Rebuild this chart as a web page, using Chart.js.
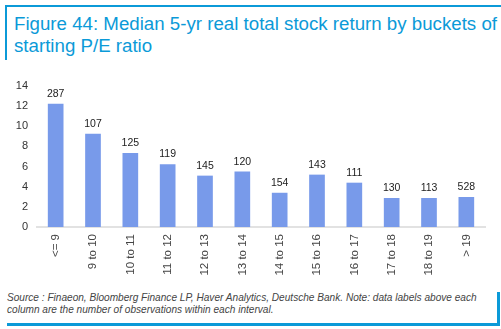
<!DOCTYPE html>
<html><head><meta charset="utf-8">
<script src="https://cdn.jsdelivr.net/npm/chart.js@4"></script>
<style>
html,body{margin:0;padding:0;background:#fff;width:501px;height:329px;overflow:hidden;font-family:"Liberation Sans",Arial,sans-serif;}
#topline{position:absolute;left:5px;top:5px;width:496px;height:2px;background:#0b9ad8;}
#leftline{position:absolute;left:5px;top:5px;width:2px;height:55px;background:#0b9ad8;}
#title{position:absolute;left:14px;top:13px;font-size:18.7px;line-height:22px;color:#0b9ad8;white-space:nowrap;}
#rightline{position:absolute;left:497px;top:292px;width:3px;height:34px;background:#0b9ad8;}
#bottomline{position:absolute;left:7px;top:323px;width:493px;height:3px;background:#0b9ad8;}
#note{position:absolute;left:7px;top:292px;font-size:10.1px;line-height:12px;font-style:italic;color:#444;white-space:nowrap;}
#wrap{position:absolute;left:0;top:60px;width:501px;height:230px;}
</style></head><body>
<div id="topline"></div><div id="leftline"></div>
<div id="title">Figure 44: Median 5-yr real total stock return by buckets of<br>starting P/E ratio</div>
<div id="wrap"><canvas id="c"></canvas></div>
<div id="note">Source : Finaeon, Bloomberg Finance LP, Haver Analytics, Deutsche Bank. Note: data labels above each<br>column are the number of observations within each interval.</div>
<div id="rightline"></div><div id="bottomline"></div>
<script>
const categories = ["<= 9","9 to 10","10 to 11","11 to 12","12 to 13","13 to 14","14 to 15","15 to 16","16 to 17","17 to 18","18 to 19","> 19"];
const medianReturn = [12.25, 9.25, 7.35, 6.22, 5.1, 5.5, 3.4, 5.2, 4.4, 2.88, 2.88, 2.98];
const observations = [287, 107, 125, 119, 145, 120, 154, 143, 111, 130, 113, 528];

const labelPlugin = {
  id: 'obsLabels',
  afterDatasetsDraw(chart) {
    const ctx = chart.ctx;
    const meta = chart.getDatasetMeta(0);
    ctx.save();
    ctx.font = '10.5px "Liberation Sans", Arial, sans-serif';
    ctx.fillStyle = '#222';
    ctx.textAlign = 'center';
    ctx.textBaseline = 'alphabetic';
    meta.data.forEach((bar, i) => {
      ctx.fillText(String(observations[i]), bar.x, bar.y - 7);
    });
    ctx.restore();
  }
};

new Chart(document.getElementById('c'), {
  type: 'bar',
  data: {
    labels: categories,
    datasets: [{
      data: medianReturn,
      backgroundColor: '#789aea',
      borderWidth: 0,
      categoryPercentage: 1,
      barPercentage: 0.42
    }]
  },
  options: {
    responsive: true,
    maintainAspectRatio: false,
    animation: false,
    layout: { padding: { top: 26, right: 16, left: 0, bottom: 0 } },
    plugins: { legend: { display: false }, tooltip: { enabled: false } },
    scales: {
      x: {
        grid: { display: false, drawTicks: false },
        border: { display: true, color: '#e2e2e2', width: 2 },
        ticks: {
          color: '#444',
          font: { size: 11.5, family: '"Liberation Sans", Arial, sans-serif' },
          minRotation: 90, maxRotation: 90, padding: 7, autoSkip: false
        },
        afterFit(scale) { scale.height = 63; }
      },
      y: {
        min: 0, max: 14,
        grid: { display: false, drawTicks: false },
        border: { display: false },
        ticks: {
          stepSize: 2, color: '#333', padding: 9,
          font: { size: 11, family: '"Liberation Sans", Arial, sans-serif' }
        },
        afterFit(scale) { scale.width = 37; }
      }
    }
  },
  plugins: [labelPlugin]
});
</script>
</body></html>
